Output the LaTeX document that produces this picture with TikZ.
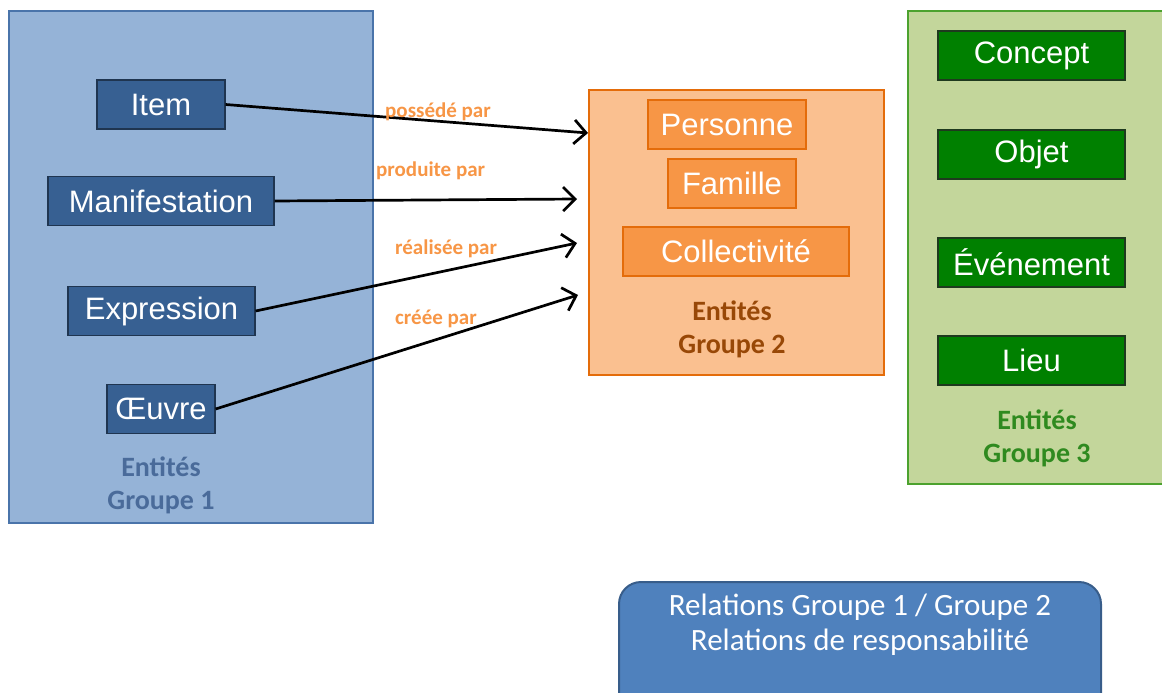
\documentclass[tikz,border=0pt]{standalone}
\usepackage{fontspec}
\setmainfont{Liberation Sans}
\newfontfamily\calfont{Carlito}
\usetikzlibrary{arrows.meta}
\definecolor{gAfill}{HTML}{95B3D7}
\definecolor{gAdraw}{HTML}{4A74AA}
\definecolor{nAfill}{HTML}{376092}
\definecolor{nAdraw}{HTML}{1F3550}
\definecolor{gBfill}{HTML}{FAC090}
\definecolor{gBdraw}{HTML}{E46C0A}
\definecolor{nBfill}{HTML}{F79646}
\definecolor{gCfill}{HTML}{C3D69B}
\definecolor{gCdraw}{HTML}{4CA22E}
\definecolor{nCfill}{HTML}{008000}
\definecolor{nCdraw}{HTML}{1E3A1E}
\definecolor{lblA}{HTML}{4A6B9A}
\definecolor{lblB}{HTML}{984807}
\definecolor{lblC}{HTML}{2F8A1F}
\definecolor{relorange}{HTML}{F79646}
\definecolor{botfill}{HTML}{4F81BD}
\definecolor{botdraw}{HTML}{385D8A}
\tikzset{
  grp/.style={draw, line width=2pt},
  ent/.style={draw, line width=1.2pt, inner sep=0pt, text=white, font=\fontsize{31}{34}\selectfont, minimum height=49pt},
  entA/.style={ent, fill=nAfill, draw=nAdraw},
  entB/.style={ent, fill=nBfill, draw=gBdraw},
  entC/.style={ent, fill=nCfill, draw=nCdraw},
  grplbl/.style={font=\calfont\bfseries\fontsize{28}{33}\selectfont, align=center},
  rel/.style={font=\calfont\bfseries\fontsize{21}{22}\selectfont, text=relorange, inner sep=0pt},
  arr/.style={line width=2.7pt, -{Straight Barb[length=12pt,width=24pt,line width=2.7pt]}},
}
\begin{document}
\begin{tikzpicture}[x=1pt,y=-1pt]
\useasboundingbox (0,0) rectangle (1162,693);
% group 1
\draw[grp, fill=gAfill, draw=gAdraw] (9,11) rectangle (373,523);
\node[entA, minimum width=128pt] (item) at (161,104.5) {Item};
\node[entA, minimum width=226pt] (manif) at (161,201) {Manifestation};
\node[entA, minimum width=187pt] (expr) at (161.5,311) {Expression};
\node[entA, minimum width=108pt] (oeuvre) at (161,409) {Œuvre};
\node[grplbl, text=lblA] (lblgA) at (161,485) {Entités\\Groupe 1};
% group 2
\draw[grp, fill=gBfill, draw=gBdraw] (589,90) rectangle (884,375);
\node[entB, minimum width=158pt] (pers) at (727,124.5) {Personne};
\node[entB, minimum width=128pt] (fam) at (732,183.5) {Famille};
\node[entB, minimum width=226pt] (coll) at (736,251.5) {Collectivité};
\node[grplbl, text=lblB] (lblgB) at (732,329) {Entités\\Groupe 2};
% group 3
\draw[grp, fill=gCfill, draw=gCdraw] (908,11) rectangle (1175,484);
\node[entC, minimum width=187pt] (concept) at (1031.5,55.5) {Concept};
\node[entC, minimum width=187pt] (objet) at (1031.5,154.5) {Objet};
\node[entC, minimum width=187pt] (event) at (1031.5,262.5) {Événement};
\node[entC, minimum width=187pt] (lieu) at (1031.5,360.5) {Lieu};
\node[grplbl, text=lblC] (lblgC) at (1037,438) {Entités\\Groupe 3};
% arrows
\coordinate (t1) at (588,133);
\coordinate (t2) at (577,199);
\coordinate (t3) at (577,243);
\coordinate (t4) at (578,295);
\draw[arr] (item.east) -- (t1);
\draw[arr] (manif.east) -- (t2);
\draw[arr] (expr.east) -- (t3);
\draw[arr] (oeuvre.east) -- (t4);
\node[rel, anchor=west] (l1) at (385,111.5) {possédé par};
\node[rel, anchor=west] (l2) at (376,170.5) {produite par};
\node[rel, anchor=west] (l3) at (395,248.5) {réalisée par};
\node[rel, anchor=west] (l4) at (395,318.5) {créée par};
% bottom box
\draw[line width=2pt, fill=botfill, draw=botdraw, rounded corners=22pt] (619,582) rectangle (1101,720);
\node[font=\calfont\fontsize{31}{35}\selectfont, text=white, align=center] (bot) at (860,625) {Relations Groupe 1 / Groupe 2\\Relations de responsabilité};
\end{tikzpicture}
\end{document}
